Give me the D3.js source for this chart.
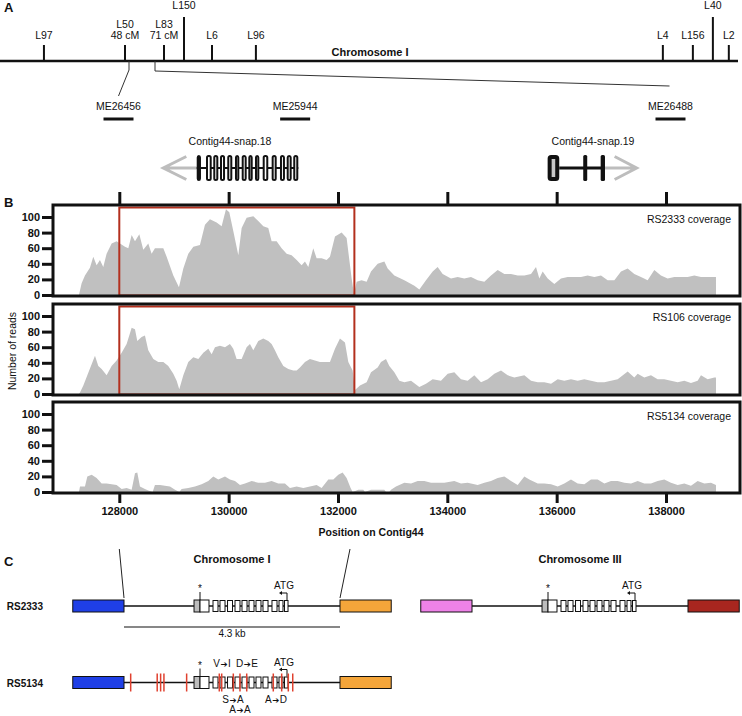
<!DOCTYPE html>
<html><head><meta charset="utf-8">
<script src="https://cdn.jsdelivr.net/npm/d3@7"></script>
<style>
body{margin:0;background:#fff}
svg{display:block;font-family:"Liberation Sans",Arial,Helvetica,sans-serif}
</style></head>
<body><svg id="chart" width="742" height="716"></svg>
<script>
// ---------- Panel A data ----------
const linkageNames = ["L97","L50","L83","L150","L6","L96","L4","L156","L40","L2"];
const linkageCM    = [0.2, 48, 71, 82.8, 99.3, 125.2, 365.2, 382.9, 394.7, 404.1];
const linkageNotes = ["", "48 cM", "71 cM", "", "", "", "", "", "", ""];
const linkageTall  = ["L150","L40"];
const meNames = ["ME26456","ME25944","ME26488"];
const meKb    = [0, 32, 100];
const snap18Exons = [[129416,129494],[129586,129690],[129719,129811],[129842,129934],[129975,130067],
  [130116,130195],[130239,130330],[130360,130440],[130482,130561],[130623,130725],[130787,130879],
  [130939,131030],[131062,131153],[131182,131274]];
const snap18ArrowTip = 128805;
const snap19Exons = [[135835,136047],[136486,136559],[136805,136884]];
const snap19ArrowTip = 137463;

// ---------- Panel B data ----------
const contigTicks = [128000,130000,132000,134000,136000,138000];
const readTicks = [0,20,40,60,80,100];
const deletionRegion = [128000, 132300];
const sampleNames = ["RS2333 coverage","RS106 coverage","RS5134 coverage"];
const rs2333Pos = [127262,127311,127372,127463,127524,127585,127646,127707,127768,127860,127951,128012,128104,128165,128226,128287,128366,128439,128530,128591,128652,128805,128866,128988,129091,129171,129262,129354,129475,129567,129658,129780,129872,129951,130012,130085,130177,130238,130329,130451,130542,130634,130725,130786,130878,130969,131061,131152,131244,131335,131396,131457,131548,131609,131701,131792,131853,131945,132067,132158,132250,132292,132341,132432,132524,132604,132726,132848,132909,133031,133214,133397,133488,133610,133732,133823,133915,134067,134189,134311,134433,134555,134677,134799,134921,135043,135165,135287,135409,135531,135622,135683,135744,135836,135957,136079,136201,136323,136445,136567,136689,136811,136933,137055,137177,137299,137420,137542,137664,137786,137908,138030,138152,138274,138396,138518,138640,138762,138884,138914,138915];
const rs2333Reads = [0,15,25,35,49,38,45,36,53,66,69,66,62,60,77,69,78,58,66,53,60,60,49,25,10,34,53,62,64,90,97,93,88,110,106,82,51,86,99,101,95,88,86,69,69,60,53,51,45,38,43,36,60,47,47,45,49,75,80,73,21,1,17,19,17,30,40,43,34,25,19,12,7,19,30,36,27,21,23,21,23,19,17,25,32,27,27,25,25,27,36,21,30,21,14,21,23,23,23,25,23,25,19,19,30,34,27,23,19,32,25,21,23,23,23,25,23,23,23,23,0];
const rs106Pos = [127262,127281,127342,127415,127494,127555,127616,127677,127768,127860,127951,128043,128134,128226,128287,128329,128408,128469,128530,128622,128713,128805,128896,128988,129049,129097,129171,129262,129354,129445,129537,129628,129689,129750,129841,129933,130024,130085,130146,130238,130329,130390,130451,130542,130634,130725,130786,130847,130908,131000,131091,131183,131244,131305,131396,131487,131579,131670,131762,131853,131945,132036,132128,132189,132268,132311,132402,132524,132604,132726,132787,132878,132939,133031,133122,133214,133336,133488,133610,133732,133884,134007,134128,134250,134372,134494,134616,134738,134860,134982,135104,135226,135409,135531,135653,135775,135897,136019,136140,136262,136384,136506,136628,136750,136872,136994,137116,137299,137420,137482,137603,137725,137847,137969,138091,138213,138335,138457,138579,138640,138762,138884,138914,138915];
const rs106Reads = [0,2,11,24,38,49,36,32,24,36,43,53,64,85,83,68,73,75,56,45,41,41,36,26,17,6,24,41,47,45,53,58,51,60,62,60,64,58,45,45,60,64,56,68,71,68,64,56,47,36,32,30,30,34,41,45,43,41,41,41,58,71,66,41,30,5,11,15,28,34,41,45,36,28,17,15,17,9,13,19,17,26,28,19,17,24,15,19,26,30,24,21,24,17,15,15,13,19,17,19,17,19,17,15,15,17,19,29,21,26,21,24,19,19,17,15,17,14,17,24,19,21,21,0];
const rs5134Pos = [127262,127281,127372,127415,127494,127585,127677,127768,127860,127951,128043,128134,128226,128287,128329,128378,128469,128530,128610,128652,128744,128835,128927,129019,129097,129140,129262,129384,129506,129628,129719,129811,129933,130024,130116,130207,130299,130421,130542,130664,130786,130908,131030,131122,131244,131366,131487,131609,131701,131823,131915,132006,132085,132158,132231,132268,132372,132463,132494,132604,132848,132878,132939,132970,133061,133214,133336,133458,133580,133702,133823,133945,134128,134250,134372,134555,134677,134799,134921,135043,135165,135287,135409,135500,135653,135775,135897,136019,136140,136262,136384,136506,136628,136750,136872,136994,137116,137238,137360,137482,137603,137725,137847,137969,138091,138213,138335,138457,138579,138701,138823,138914,138915];
const rs5134Reads = [0,7,7,20,22,18,11,11,10,9,4,5,3,24,25,7,4,2,0,9,9,8,7,3,0,4,5,7,10,14,20,16,20,16,14,9,11,14,12,12,14,11,11,5,7,5,7,9,5,16,16,22,25,18,5,0,3,3,0,3,3,0,0,3,7,12,11,14,14,12,12,12,14,11,12,9,12,14,18,20,14,9,20,16,11,11,10,7,11,16,11,10,16,16,11,14,14,12,11,14,11,11,14,16,12,9,11,8,14,11,12,9,0];

// ---------- Panel C data ----------
const locusLengthKb = 4.3;
const stopExonKb = [1.394, 1.513];
const firstExonKb = [1.513, 1.692];
const codingExonsKb = [[1.772,1.871],[1.911,2.011],[2.061,2.160],[2.210,2.309],[2.349,2.449],[2.489,2.588],
  [2.628,2.727],[2.767,2.867],[2.946,3.046],[3.086,3.165],[3.195,3.265]];
const snpKb = [0.133,0.661,0.729,0.795,1.247,1.897,1.945,2.176,2.309,2.443,2.972,3.139,3.271,3.359];
const aaFrom = ["V","D","S","A","A"];
const aaTo   = ["I","E","A","A","D"];
const aaKb   = [1.951, 2.449, 2.170, 2.309, 3.026];
const aaRow  = [0, 0, 1, 2, 1];
const rowNames = ["RS2333","RS5134"];

// ---------- drawing ----------
const svg = d3.select("#chart");
const font = "'Liberation Sans',Arial,Helvetica,sans-serif";

function txt(g, x, y, s, opts={}) {
  return g.append("text").attr("x", x).attr("y", y).text(s)
    .attr("font-size", opts.size || 10.5)
    .attr("font-weight", opts.bold ? "bold" : "normal")
    .attr("text-anchor", opts.anchor || "start")
    .attr("fill", opts.fill || "#111");
}

// Panel letters
txt(svg, 4, 12, "A", {bold:true, size:13});
txt(svg, 4, 207, "B", {bold:true, size:13});
txt(svg, 4, 566, "C", {bold:true, size:13});

// ===== Panel A =====
const gA = svg.append("g");
const xL = d3.scaleLinear().domain([48, 71]).range([125, 164]);
const chromY = 61;
gA.append("line").attr("x1", 0).attr("x2", 738).attr("y1", chromY).attr("y2", chromY)
  .attr("stroke", "#111").attr("stroke-width", 2.5);
txt(gA, 370, 56, "Chromosome I", {bold:true, size:11, anchor:"middle"});

linkageNames.forEach((n, i) => {
  const x = xL(linkageCM[i]);
  const tall = linkageTall.includes(n);
  gA.append("line").attr("x1", x).attr("x2", x).attr("y1", tall ? 17 : 45).attr("y2", chromY)
    .attr("stroke", "#111").attr("stroke-width", 2);
  if (tall) {
    txt(gA, x, 9, n, {anchor:"middle", size:10.5});
  } else if (linkageNotes[i]) {
    txt(gA, x, 28, n, {anchor:"middle", size:10.5});
    txt(gA, x, 39, linkageNotes[i], {anchor:"middle", size:10.5});
  } else {
    txt(gA, x, 39, n, {anchor:"middle", size:10.5});
  }
});

const xME = d3.scaleLinear().domain([0, 100]).range([118.5, 670.5]);
gA.append("path").attr("d", `M129,${chromY}V70L${xME(0)},96`)
  .attr("fill", "none").attr("stroke", "#333").attr("stroke-width", 1);
gA.append("path").attr("d", `M155,${chromY}V71L${xME(100) - 1},86`)
  .attr("fill", "none").attr("stroke", "#333").attr("stroke-width", 1);

meNames.forEach((n, i) => {
  const x = xME(meKb[i]);
  txt(gA, x, 110, n, {anchor:"middle", size:10.5});
  gA.append("line").attr("x1", x - 15).attr("x2", x + 15).attr("y1", 119).attr("y2", 119)
    .attr("stroke", "#111").attr("stroke-width", 3);
});

// ===== Panel B =====
const xB = d3.scaleLinear().domain([128000, 138000]).range([119.3, 666]);
const boxLeft = 53, boxRight = 740, boxH = 91;
const boxTops = [205, 304, 402];
const series = [[rs2333Pos, rs2333Reads],[rs106Pos, rs106Reads],[rs5134Pos, rs5134Reads]];

const geneY = 168;
const gG = svg.append("g");
txt(gG, 230, 145, "Contig44-snap.18", {anchor:"middle", size:10.5});
txt(gG, 593, 145, "Contig44-snap.19", {anchor:"middle", size:10.5});
const arrowGray = "#bdbdbd";
gG.append("path").attr("d",
  `M${xB(snap18Exons[0][0])},${geneY}H${xB(snap18ArrowTip)}M${xB(snap18ArrowTip)+23},${geneY-11.5}L${xB(snap18ArrowTip)},${geneY}L${xB(snap18ArrowTip)+23},${geneY+11.5}`)
  .attr("fill", "none").attr("stroke", arrowGray).attr("stroke-width", 3);
gG.append("path").attr("d",
  `M${xB(snap19Exons[2][1])},${geneY}H${xB(snap19ArrowTip)}M${xB(snap19ArrowTip)-22},${geneY-11.5}L${xB(snap19ArrowTip)},${geneY}L${xB(snap19ArrowTip)-22},${geneY+11.5}`)
  .attr("fill", "none").attr("stroke", arrowGray).attr("stroke-width", 3);
gG.append("line").attr("x1", xB(snap18Exons[0][0])).attr("x2", xB(snap18Exons[snap18Exons.length-1][1]))
  .attr("y1", geneY).attr("y2", geneY).attr("stroke", "#111").attr("stroke-width", 2);
gG.append("line").attr("x1", xB(snap19Exons[0][1])).attr("x2", xB(snap19Exons[2][1]))
  .attr("y1", geneY).attr("y2", geneY).attr("stroke", "#111").attr("stroke-width", 3);
gG.selectAll("rect.e18").data(snap18Exons).join("rect").attr("class", "e18")
  .attr("x", d => xB(d[0]) + 1).attr("width", d => Math.max(1, xB(d[1]) - xB(d[0]) - 2))
  .attr("y", geneY - 12).attr("height", 24)
  .attr("fill", (d, i) => i === 0 ? "#111" : "#fff").attr("stroke", "#111").attr("stroke-width", 2)
  .attr("rx", 1.5);
gG.selectAll("rect.e19").data(snap19Exons).join("rect").attr("class", "e19")
  .attr("x", (d, i) => xB(d[0]) + (i === 0 ? 2 : 0)).attr("width", (d, i) => xB(d[1]) - xB(d[0]) - (i === 0 ? 4 : 0))
  .attr("y", (d, i) => geneY - (i === 0 ? 11 : 13)).attr("height", (d, i) => i === 0 ? 22 : 26)
  .attr("fill", (d, i) => i === 0 ? "#c8c8c8" : "#111").attr("stroke", "#111")
  .attr("stroke-width", (d, i) => i === 0 ? 4 : 0).attr("rx", 1.5);

const axTop = svg.append("g").attr("transform", `translate(0,${boxTops[0]})`)
  .call(d3.axisTop(xB).tickValues(contigTicks).tickSize(13).tickFormat(""));
axTop.select(".domain").remove();
axTop.selectAll("line").attr("stroke", "#111").attr("stroke-width", 3);
const axBot = svg.append("g").attr("transform", `translate(0,${boxTops[2] + boxH})`)
  .call(d3.axisBottom(xB).tickValues(contigTicks).tickSize(10).tickPadding(4).tickFormat(d3.format("d")));
axBot.select(".domain").remove();
axBot.selectAll("line").attr("stroke", "#111").attr("stroke-width", 3);
axBot.selectAll("text").attr("font-family", font).attr("font-size", 11).attr("font-weight", "bold").attr("fill", "#111");
txt(svg, 371, 536, "Position on Contig44", {bold:true, size:10.5, anchor:"middle"});

const defs = svg.append("defs");
boxTops.forEach((top, i) => {
  const yS = d3.scaleLinear().domain([0, 100]).range([top + 90, top + 12]);
  const g = svg.append("g");
  defs.append("clipPath").attr("id", "clip" + i).append("rect")
    .attr("x", boxLeft).attr("y", top).attr("width", boxRight - boxLeft).attr("height", boxH);
  const [pos, reads] = series[i];
  const pts = pos.map((p, k) => [p, reads[k]]);
  const area = d3.area().x(d => xB(d[0])).y0(yS(0)).y1(d => yS(d[1]));
  g.append("path").datum(pts).attr("d", area).attr("fill", "#c0c0c0")
    .attr("clip-path", `url(#clip${i})`);
  if (i < 2) {
    g.append("rect").attr("x", xB(deletionRegion[0])).attr("y", top + 2.5)
      .attr("width", xB(deletionRegion[1]) - xB(deletionRegion[0])).attr("height", yS(0) - top - 2)
      .attr("fill", "none").attr("stroke", "#b3301e").attr("stroke-width", 2);
  }
  g.append("rect").attr("x", boxLeft).attr("y", top).attr("width", boxRight - boxLeft).attr("height", boxH)
    .attr("fill", "none").attr("stroke", "#111").attr("stroke-width", 3);
  const ay = g.append("g").attr("transform", `translate(${boxLeft},0)`)
    .call(d3.axisLeft(yS).tickValues(readTicks).tickSize(11).tickPadding(2));
  ay.select(".domain").remove();
  ay.selectAll("line").attr("stroke", "#111").attr("stroke-width", 3);
  ay.selectAll("text").attr("font-family", font).attr("font-size", 11).attr("font-weight", "bold").attr("fill", "#111");
  txt(g, 731, top + [18, 17, 18][i], sampleNames[i], {anchor:"end", size:10.5});
});
svg.append("text").attr("transform", "translate(16,351) rotate(-90)").attr("text-anchor", "middle")
  .attr("font-size", 10.5).attr("fill", "#111").text("Number of reads");

// ===== Panel C =====
const gC = svg.append("g");
const xC = d3.scaleLinear().domain([0, locusLengthKb]).range([124, 340]);
const chrIIIshift = 348;
txt(gC, 232, 563, "Chromosome I", {bold:true, size:11, anchor:"middle"});
txt(gC, 580, 563, "Chromosome III", {bold:true, size:11, anchor:"middle"});
gC.append("line").attr("x1", xB(deletionRegion[0])).attr("y1", 549).attr("x2", xC(0)).attr("y2", 598)
  .attr("stroke", "#222").attr("stroke-width", 1);
gC.append("line").attr("x1", 350).attr("y1", 549).attr("x2", xC(locusLengthKb)).attr("y2", 598)
  .attr("stroke", "#222").attr("stroke-width", 1);

function drawLocus(g, cy, flankColors) {
  const flankW = xC(1.02) - xC(0);
  g.append("line").attr("x1", xC(0)).attr("x2", xC(locusLengthKb)).attr("y1", cy).attr("y2", cy)
    .attr("stroke", "#111").attr("stroke-width", 1.3);
  g.append("rect").attr("x", xC(0) - flankW).attr("y", cy - 6).attr("width", flankW).attr("height", 12)
    .attr("fill", flankColors[0]).attr("stroke", "#111").attr("stroke-width", 1);
  g.append("rect").attr("x", xC(locusLengthKb)).attr("y", cy - 6).attr("width", flankW).attr("height", 12)
    .attr("fill", flankColors[1]).attr("stroke", "#111").attr("stroke-width", 1);
  g.append("rect").attr("x", xC(stopExonKb[0])).attr("y", cy - 6).attr("width", xC(stopExonKb[1]) - xC(stopExonKb[0]))
    .attr("height", 12).attr("fill", "#bdbdbd").attr("stroke", "#111").attr("stroke-width", 1);
  g.append("rect").attr("x", xC(firstExonKb[0])).attr("y", cy - 6).attr("width", xC(firstExonKb[1]) - xC(firstExonKb[0]))
    .attr("height", 12).attr("fill", "#fff").attr("stroke", "#111").attr("stroke-width", 1);
  g.selectAll("rect.cx").data(codingExonsKb).join("rect").attr("class", "cx")
    .attr("x", d => xC(d[0])).attr("width", d => xC(d[1]) - xC(d[0]))
    .attr("y", cy - 5.5).attr("height", 11).attr("fill", "#fff").attr("stroke", "#111").attr("stroke-width", 1);
  const sx = xC(stopExonKb[1]);
  g.append("line").attr("x1", sx).attr("x2", sx).attr("y1", cy - 14).attr("y2", cy - 6)
    .attr("stroke", "#111").attr("stroke-width", 1);
  txt(g, sx, cy - 14, "*", {anchor:"middle", size:10});
  const ax = xC(codingExonsKb[codingExonsKb.length - 1][1]);
  g.append("path").attr("d", `M${ax - 1},${cy - 6}V${cy - 13}H${ax - 6}`)
    .attr("fill", "none").attr("stroke", "#111").attr("stroke-width", 1);
  g.append("path").attr("d", `M${ax - 6},${cy - 15}L${ax - 9},${cy - 13}L${ax - 6},${cy - 11}Z`).attr("fill", "#111");
  txt(g, ax - 4, cy - 17, "ATG", {anchor:"middle", size:10});
}

const rowY = [606, 682.5];
drawLocus(gC.append("g"), rowY[0], ["#1f3fe6", "#f4a53a"]);
drawLocus(gC.append("g").attr("transform", `translate(${chrIIIshift},0)`), rowY[0], ["#ee82e8", "#a8261f"]);
const g5 = gC.append("g");
drawLocus(g5, rowY[1], ["#1f3fe6", "#f4a53a"]);
g5.selectAll("line.snp").data(snpKb).join("line").attr("class", "snp")
  .attr("x1", d => xC(d)).attr("x2", d => xC(d)).attr("y1", rowY[1] - 9).attr("y2", rowY[1] + 9)
  .attr("stroke", "#e0412f").attr("stroke-width", 1.5);
aaFrom.forEach((s, i) => {
  const y = [rowY[1] - 16, rowY[1] + 20, rowY[1] + 30][aaRow[i]];
  const t = g5.append("text").attr("x", xC(aaKb[i])).attr("y", y).attr("text-anchor", "middle")
    .attr("font-size", 10).attr("fill", "#111");
  t.append("tspan").text(s);
  t.append("tspan").attr("font-family", "'DejaVu Sans',sans-serif").attr("font-weight", "bold")
    .attr("font-size", 8.5).attr("dx", 0.5).text("\u2794");
  t.append("tspan").attr("dx", 0.5).text(aaTo[i]);
});
rowNames.forEach((n, i) => txt(gC, 43, rowY[i] + 4, n, {anchor:"end", bold:true, size:10}));
gC.append("line").attr("x1", xC(0)).attr("x2", xC(locusLengthKb)).attr("y1", 627).attr("y2", 627)
  .attr("stroke", "#111").attr("stroke-width", 1.2);
txt(gC, xC(locusLengthKb / 2), 637, locusLengthKb + " kb", {anchor:"middle", size:10});
</script></body></html>
